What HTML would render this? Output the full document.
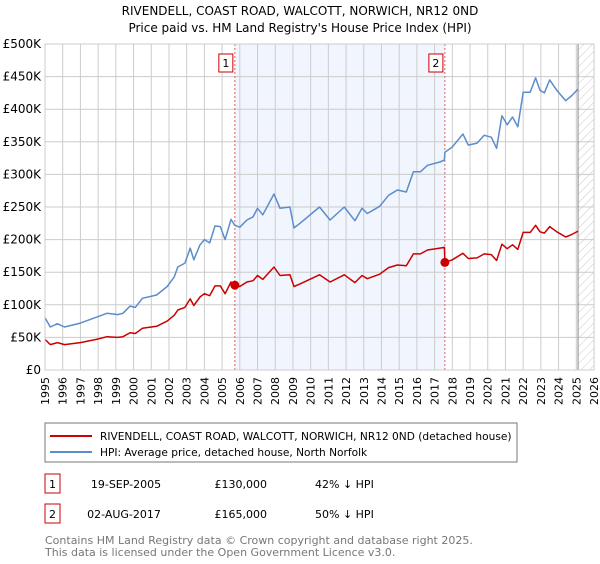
<!DOCTYPE html>
<html><head><meta charset="utf-8"><style>
body{margin:0;background:#fff;width:600px;height:560px;overflow:hidden;font-family:"DejaVu Sans","Liberation Sans",sans-serif}
svg text{font-family:"DejaVu Sans","Liberation Sans",sans-serif}
</style></head><body>
<svg id="chart" width="600" height="560" xmlns="http://www.w3.org/2000/svg">
<defs><pattern id="hatch" patternUnits="userSpaceOnUse" width="6" height="6" patternTransform="rotate(45)"><line x1="0" y1="0" x2="0" y2="6" stroke="#c8c8c8" stroke-width="1"/></pattern></defs>
<text x="300" y="15" text-anchor="middle" font-size="12">RIVENDELL, COAST ROAD, WALCOTT, NORWICH, NR12 0ND</text>
<text x="300" y="32" text-anchor="middle" font-size="12">Price paid vs. HM Land Registry's House Price Index (HPI)</text>
<g id="plot"></g>
<g>
<rect x="45" y="423" width="472" height="39" fill="#fff" stroke="#777"/>
<line x1="50" y1="436" x2="92" y2="436" stroke="#cc0000" stroke-width="2"/>
<text x="100" y="440" font-size="10.6">RIVENDELL, COAST ROAD, WALCOTT, NORWICH, NR12 0ND (detached house)</text>
<line x1="50" y1="452" x2="92" y2="452" stroke="#5b8ccc" stroke-width="2"/>
<text x="100" y="456" font-size="10.6">HPI: Average price, detached house, North Norfolk</text>
</g>
<g font-size="11">
<rect x="45" y="474" width="15" height="19" fill="#fff" stroke="#cc0000"/>
<text x="52.5" y="488" text-anchor="middle">1</text>
<text x="126" y="488" text-anchor="middle">19-SEP-2005</text>
<text x="267" y="488" text-anchor="end">£130,000</text>
<text x="315" y="488">42% ↓ HPI</text>
</g>
<g font-size="11">
<rect x="45" y="504" width="15" height="19" fill="#fff" stroke="#cc0000"/>
<text x="52.5" y="518" text-anchor="middle">2</text>
<text x="124" y="518" text-anchor="middle">02-AUG-2017</text>
<text x="267" y="518" text-anchor="end">£165,000</text>
<text x="315" y="518">50% ↓ HPI</text>
</g>
<text x="45" y="544" font-size="11" fill="#777">Contains HM Land Registry data © Crown copyright and database right 2025.</text>
<text x="45" y="556" font-size="11" fill="#777">This data is licensed under the Open Government Licence v3.0.</text>
</svg>
<script>
const dates=[1995.0,1995.3,1995.7,1996.1,1997.0,1997.9,1998.5,1999.1,1999.4,1999.8,2000.1,2000.5,2001.3,2001.9,2002.3,2002.5,2002.9,2003.2,2003.4,2003.75,2004.0,2004.3,2004.6,2004.9,2005.17,2005.5,2005.72,2006.0,2006.4,2006.75,2007.0,2007.3,2007.93,2008.27,2008.83,2009.06,2009.4,2010.5,2011.1,2011.9,2012.5,2012.9,2013.2,2013.9,2014.4,2014.9,2015.4,2015.8,2016.2,2016.6,2017.3,2017.55,2017.58,2018.0,2018.6,2018.9,2019.4,2019.8,2020.2,2020.5,2020.8,2021.1,2021.4,2021.7,2022.0,2022.4,2022.7,2022.95,2023.2,2023.5,2023.9,2024.4,2024.75,2025.1];
const hpi=[80,66,71,66,72,81,87,85,87,98,96,110,115,128,143,158,164,187,169,192,200,195,221,220,200,231,222,219,230,235,248,238,270,248,250,218,225,250,230,250,229,248,240,251,268,276,273,304,304,314,319,322,334,342,362,345,348,360,357,340,390,376,388,373,426,426,448,429,425,445,429,413,421,431];
const paid=[47,39,42,39,42,47,51,50,51,57,56,64,67,75,84,92,96,109,99,112,117,114,129,129,117,135,130,128,135,137,145,139,158,145,146,128,132,146,135,146,134,145,140,147,157,161,160,178,178,184,187,188,165,169,179,171,172,178,177,168,193,186,192,185,211,211,222,212,210,220,212,204,208,213];
const saleDates=[2005.72,2017.58];
const salePrices=[130,165];
const saleLabels=["1","2"];
const yTicks=[0,50,100,150,200,250,300,350,400,450,500];
const yTickLabels=["£0","£50K","£100K","£150K","£200K","£250K","£300K","£350K","£400K","£450K","£500K"];
const xYears=[1995,1996,1997,1998,1999,2000,2001,2002,2003,2004,2005,2006,2007,2008,2009,2010,2011,2012,2013,2014,2015,2016,2017,2018,2019,2020,2021,2022,2023,2024,2025,2026];
const dataEnd=2025.1;

const X0=45,X1=594,Y0=370,Y1=44;
const xS=d=>X0+(d-1995)/(2026-1995)*(X1-X0);
const yS=v=>Y0-v/500*(Y0-Y1);
const NS="http://www.w3.org/2000/svg";
const g=document.getElementById('plot');
function mk(t,a){const e=document.createElementNS(NS,t);for(const k in a)e.setAttribute(k,a[k]);g.appendChild(e);return e;}

let e=mk('rect',{x:xS(saleDates[0]),y:Y1,width:xS(saleDates[1])-xS(saleDates[0]),height:Y0-Y1,fill:'#eef3fd',opacity:0.8});


e=mk('rect',{x:xS(dataEnd),y:Y1,width:X1-xS(dataEnd),height:Y0-Y1,fill:'url(#hatch)'});


xYears.forEach(yr=>{
 const l=mk('line',{x1:xS(yr),y1:Y1,x2:xS(yr),y2:Y0,stroke:'#cccccc','stroke-width':1});
 
 
 const t=mk('text',{x:0,y:0,'font-size':11,transform:`translate(${xS(yr)+4},${Y0+7}) rotate(-90)`,'text-anchor':'end'});
 t.textContent=yr;
 
 
});
yTicks.forEach((v,i)=>{
 const l=mk('line',{x1:X0,y1:yS(v),x2:X1,y2:yS(v),stroke:'#cccccc','stroke-width':1});
 
 
 const t=mk('text',{x:X0-4,y:yS(v)+4,'font-size':12,'text-anchor':'end'});
 t.textContent=yTickLabels[i];
 
 
});
e=mk('line',{x1:xS(dataEnd),y1:Y1,x2:xS(dataEnd),y2:Y0,stroke:'#888','stroke-width':1});


saleDates.forEach((d,i)=>{
 const l=mk('line',{x1:xS(d),y1:Y1,x2:xS(d),y2:Y0,stroke:'#e06060','stroke-width':1,'stroke-dasharray':'2,2'});
 
 
 const r=mk('rect',{x:xS(d)-16,y:54,width:14,height:18,fill:'#fff',stroke:'#cc0000'});
 
 
 const t=mk('text',{x:xS(d)-9,y:67,'font-size':11,'text-anchor':'middle'});
 t.textContent=saleLabels[i];
 
 
});
const pts=a=>dates.map((d,i)=>xS(d).toFixed(1)+','+yS(a[i]).toFixed(1)).join(' ');
e=mk('polyline',{points:pts(hpi),fill:'none',stroke:'#5b8ccc','stroke-width':1.5,'stroke-linejoin':'round'});


e=mk('polyline',{points:pts(paid),fill:'none',stroke:'#cc0000','stroke-width':1.5,'stroke-linejoin':'round'});


saleDates.forEach((d,i)=>{
 const c=mk('circle',{cx:xS(d),cy:yS(salePrices[i]),r:4.5,fill:'#cc0000'});
 
 
});
e=mk('rect',{x:X0,y:Y1,width:X1-X0,height:Y0-Y1,fill:'none',stroke:'#cccccc'});


</script>
</body></html>
